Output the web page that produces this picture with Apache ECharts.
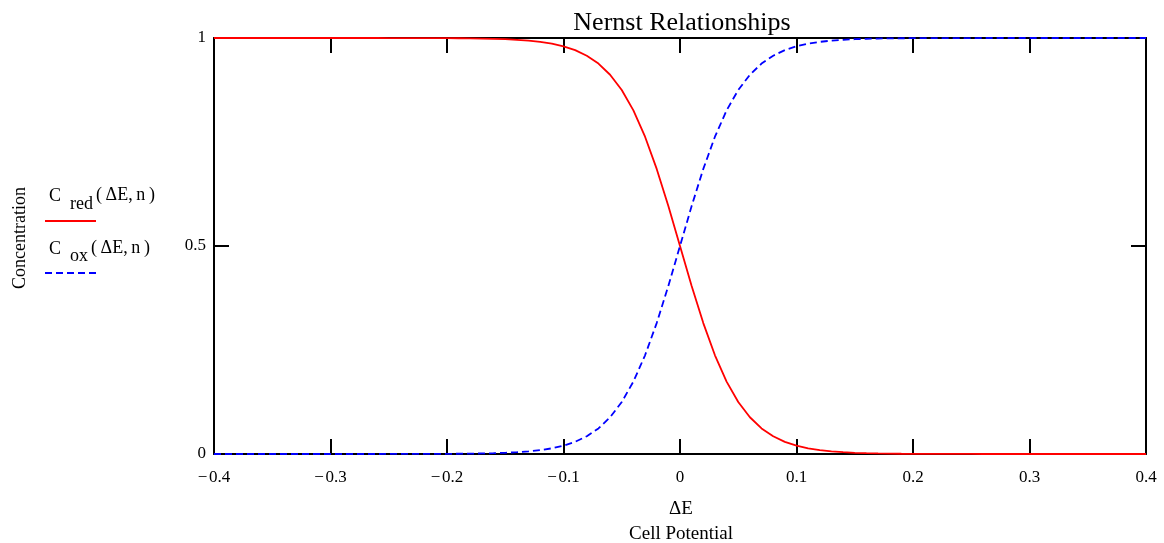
<!DOCTYPE html>
<html>
<head>
<meta charset="utf-8">
<script src="https://cdn.jsdelivr.net/npm/echarts@6/dist/echarts.min.js"></script>
<style>
html,body{margin:0;padding:0;background:#fff;}
#c{width:1164px;height:543px;}
</style>
</head>
<body>
<div id="c"></div>
<script>
// Cell potential ΔE (V)
var dE = [-0.40,-0.39,-0.38,-0.37,-0.36,-0.35,-0.34,-0.33,-0.32,-0.31,-0.30,-0.29,-0.28,-0.27,-0.26,-0.25,-0.24,-0.23,-0.22,-0.21,-0.20,-0.19,-0.18,-0.17,-0.16,-0.15,-0.14,-0.13,-0.12,-0.11,-0.10,-0.09,-0.08,-0.07,-0.06,-0.05,-0.04,-0.03,-0.02,-0.01,0.00,0.01,0.02,0.03,0.04,0.05,0.06,0.07,0.08,0.09,0.10,0.11,0.12,0.13,0.14,0.15,0.16,0.17,0.18,0.19,0.20,0.21,0.22,0.23,0.24,0.25,0.26,0.27,0.28,0.29,0.30,0.31,0.32,0.33,0.34,0.35,0.36,0.37,0.38,0.39,0.40];
// C_red(ΔE, n)
var cRed = [1,1,1,1,1,1,1,1,1,1,1,1,1,1,1,0.9999,0.9999,0.9999,0.9998,0.9997,0.9996,0.9994,0.9991,0.9987,0.9980,0.9971,0.9957,0.9937,0.9907,0.9864,0.9800,0.9708,0.9574,0.9385,0.9117,0.8750,0.8260,0.7627,0.6853,0.5960,0.5000,0.4040,0.3147,0.2373,0.1740,0.1250,0.0883,0.0615,0.0426,0.0292,0.0200,0.0136,0.0093,0.0063,0.0043,0.0029,0.0020,0.0013,0.0009,0.0006,0.0004,0.0003,0.0002,0.0001,0.0001,0.0001,0,0,0,0,0,0,0,0,0,0,0,0,0,0,0];
// C_ox(ΔE, n)
var cOx = [0,0,0,0,0,0,0,0,0,0,0,0,0,0,0,0.0001,0.0001,0.0001,0.0002,0.0003,0.0004,0.0006,0.0009,0.0013,0.0020,0.0029,0.0043,0.0063,0.0093,0.0136,0.0200,0.0292,0.0426,0.0615,0.0883,0.1250,0.1740,0.2373,0.3147,0.4040,0.5000,0.5960,0.6853,0.7627,0.8260,0.8750,0.9117,0.9385,0.9574,0.9708,0.9800,0.9864,0.9907,0.9937,0.9957,0.9971,0.9980,0.9987,0.9991,0.9994,0.9996,0.9997,0.9998,0.9999,0.9999,0.9999,1,1,1,1,1,1,1,1,1,1,1,1,1,1,1];

var FONT = '"Liberation Serif", "DejaVu Serif", serif';
function pairs(xs, ys){ return xs.map(function(x,i){ return [x, ys[i]]; }); }
function fmt(v){ var s = (Math.round(v*10)/10).toString(); return s.replace('-', '\u2212\u200A'); }
function txt(s, x, y, size, align){
  return {type:'text', style:{text:s, x:x, y:y, font:size+'px '+FONT, fill:'#000',
    align:align||'left', verticalAlign:'middle'}};
}

var chart = echarts.init(document.getElementById('c'));
var axisLine = {show:true, onZero:false, lineStyle:{color:'#000', width:2}};
var tick = {show:true, inside:true, length:15, lineStyle:{color:'#000', width:2}};
chart.setOption({
  animation:false,
  backgroundColor:'#fff',
  grid:{left:214, right:18, top:38, bottom:89},
  xAxis:[
    {type:'value', min:-0.4, max:0.4, interval:0.1, position:'bottom',
     axisLine:axisLine, axisTick:tick, splitLine:{show:false},
     axisLabel:{margin:15, formatter:fmt, fontFamily:FONT, fontSize:17, color:'#000'}},
    {type:'value', min:-0.4, max:0.4, interval:0.1, position:'top',
     axisLine:axisLine, axisTick:tick, splitLine:{show:false}, axisLabel:{show:false}}
  ],
  yAxis:[
    {type:'value', min:0, max:1, interval:0.5, position:'left',
     axisLine:axisLine, axisTick:tick, splitLine:{show:false},
     axisLabel:{margin:8, fontFamily:FONT, fontSize:17, color:'#000'}},
    {type:'value', min:0, max:1, interval:0.5, position:'right',
     axisLine:axisLine, axisTick:tick, splitLine:{show:false}, axisLabel:{show:false}}
  ],
  series:[
    {name:'C red', type:'line', data:pairs(dE, cRed), showSymbol:false, z:3,
     lineStyle:{color:'#ff0000', width:1.8}},
    {name:'C ox', type:'line', data:pairs(dE, cOx), showSymbol:false, z:4,
     lineStyle:{color:'#0000ff', width:1.8, type:[7,4]}}
  ],
  graphic:[
    txt('Nernst Relationships', 682, 23, 26, 'center'),
    {type:'text', x:20, y:238, rotation:Math.PI/2,
     style:{text:'Concentration', x:0, y:0, font:'18px '+FONT, fill:'#000', align:'center', verticalAlign:'middle'}},
    txt('\u0394E', 681, 509, 19, 'center'),
    txt('Cell Potential', 681, 534, 19, 'center'),
    txt('C', 49, 196, 18),
    txt('red', 70, 204, 18),
    txt('(\u2009\u0394E,\u2009n\u2009)', 96, 195, 18),
    {type:'line', shape:{x1:45, y1:221, x2:96, y2:221}, style:{stroke:'#ff0000', lineWidth:1.8}},
    txt('C', 49, 249, 18),
    txt('ox', 70, 256, 18),
    txt('(\u2009\u0394E,\u2009n\u2009)', 91, 248, 18),
    {type:'line', shape:{x1:45, y1:273, x2:96, y2:273}, style:{stroke:'#0000ff', lineWidth:1.8, lineDash:[7,4]}}
  ]
});
</script>
</body>
</html>
